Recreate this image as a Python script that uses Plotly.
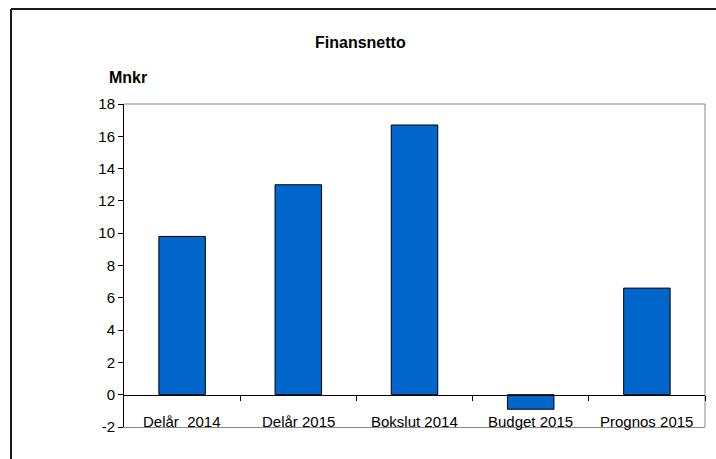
import plotly.graph_objects as go

categories = ["Delår  2014", "Delår 2015", "Bokslut 2014", "Budget 2015", "Prognos 2015"]
values = [9.8, 13.0, 16.7, -0.9, 6.6]
y_ticks = [-2, 0, 2, 4, 6, 8, 10, 12, 14, 16, 18]
y_tick_labels = ["-2", "0", "2", "4", "6", "8", "10", "12", "14", "16", "18"]

W, H = 716, 459
L, R, T, B = 124, 11, 104, 32
pw, ph = W - L - R, H - T - B

def px_x(p):
    return (p - L) / pw

def px_y(p):
    return (H - B - p) / ph

font = "Liberation Sans, Arial, sans-serif"

fig = go.Figure()
fig.add_trace(go.Bar(
    x=list(range(len(categories))), y=values, width=0.4,
    marker=dict(color="#0066CC", line=dict(color="black", width=1)),
    showlegend=False, hoverinfo="skip",
))
fig.add_trace(go.Scatter(x=[], y=[], xaxis="x2", yaxis="y", showlegend=False))

n = len(categories)
zero_pos = (0 - y_ticks[0]) / (y_ticks[-1] - y_ticks[0])

annotations = [
    dict(text="<b>Finansnetto</b>", xref="paper", yref="paper",
         x=px_x(360), y=px_y(42), xanchor="center", yanchor="middle",
         showarrow=False, font=dict(family=font, size=16, color="black")),
    dict(text="<b>Mnkr</b>", xref="paper", yref="paper",
         x=px_x(128), y=px_y(78), xanchor="center", yanchor="middle",
         showarrow=False, font=dict(family=font, size=16, color="black")),
]
for i, c in enumerate(categories):
    annotations.append(dict(
        text=c, xref="x", yref="y", x=i, y=y_ticks[0], yshift=6,
        xanchor="center", yanchor="middle", showarrow=False,
        font=dict(family=font, size=15, color="black"),
    ))

fig.update_layout(
    width=W, height=H,
    margin=dict(l=L, r=R, t=T, b=B),
    paper_bgcolor="white", plot_bgcolor="white",
    font=dict(family=font, size=15, color="black"),
    xaxis=dict(
        range=[-0.5, n - 0.5], tickvals=list(range(n)),
        showticklabels=False, ticks="", showgrid=False, zeroline=False,
        showline=True, linecolor="#888888", linewidth=1,
    ),
    xaxis2=dict(
        overlaying="x", anchor="free", position=zero_pos, side="bottom",
        range=[-0.5, n - 0.5], tickvals=[i + 0.5 for i in range(n)],
        ticks="outside", ticklen=5, tickcolor="black", tickwidth=1,
        showticklabels=False, showgrid=False, zeroline=False,
        showline=True, linecolor="black", linewidth=1,
    ),
    yaxis=dict(
        range=[y_ticks[0], y_ticks[-1]], tickvals=y_ticks, ticktext=y_tick_labels,
        ticks="outside", ticklen=5, tickcolor="black", tickwidth=1,
        showgrid=False, zeroline=False,
        showline=True, linecolor="black", linewidth=1,
        tickfont=dict(family=font, size=15, color="black"),
    ),
    shapes=[
        dict(type="line", xref="paper", yref="paper", x0=0, x1=1, y0=1, y1=1,
             line=dict(color="#888888", width=1), layer="below"),
        dict(type="line", xref="paper", yref="paper", x0=1, x1=1, y0=0, y1=1,
             line=dict(color="#888888", width=1), layer="below"),
        dict(type="line", xref="paper", yref="paper", x0=px_x(11), x1=px_x(11),
             y0=px_y(9), y1=px_y(470), line=dict(color="#1a1a1a", width=2)),
        dict(type="line", xref="paper", yref="paper", x0=px_x(11), x1=px_x(730),
             y0=px_y(9), y1=px_y(9), line=dict(color="#1a1a1a", width=2)),
    ],
    annotations=annotations,
)

fig.write_html("out.html")
